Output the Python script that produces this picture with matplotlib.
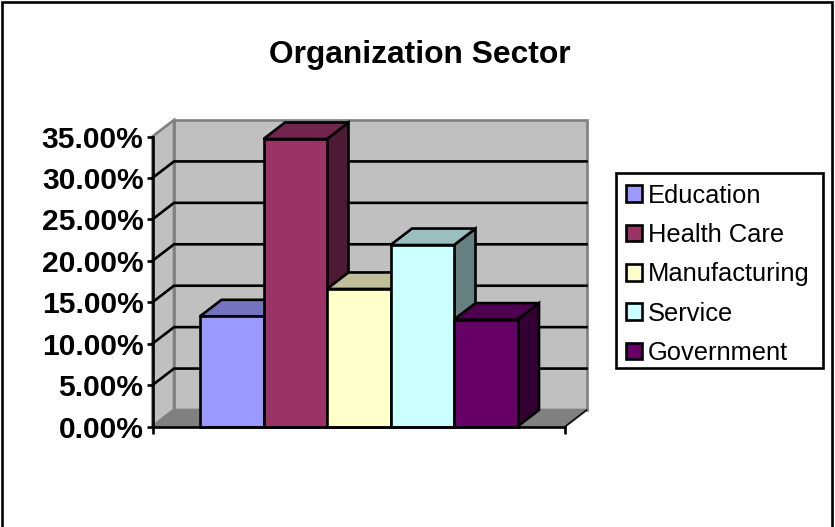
import matplotlib
matplotlib.use('Agg')
import matplotlib.pyplot as plt
from matplotlib.patches import Polygon, Rectangle
from matplotlib.colors import to_rgb

plt.rcParams['font.family'] = ['Liberation Sans', 'DejaVu Sans']

# Data
sectors = ['Education', 'Health Care', 'Manufacturing', 'Service', 'Government']
shares = [13.3, 34.7, 16.6, 21.9, 12.9]
colors = ['#9999FF', '#993366', '#FFFFCC', '#CCFFFF', '#660066']
y_ticks = [0, 5, 10, 15, 20, 25, 30, 35]

W, H = 835, 527
LW = 1.9

fig = plt.figure(figsize=(W / 100, H / 100), dpi=100)
# outer chart frame
fig.add_artist(Rectangle((1.5 / W, -0.01), (831.5 - 1.5) / W, 1.01 - 1.5 / H, transform=fig.transFigure,
                         fill=False, edgecolor='black', linewidth=LW))

# axes = front plane of the 3D box
left, right, top, bottom = 152.5, 565, 136.5, 426.5
ax = fig.add_axes([left / W, 1 - bottom / H, (right - left) / W, (bottom - top) / H])
ax.set_xlim(0, 1)
ax.set_ylim(0, 35)
ax.patch.set_visible(False)

# depth offset of the box, in data units
dx = 21.5 / (right - left)
dy = 16.5 / ((bottom - top) / 35)


def poly(points, face, edge='black', z=1, lw=LW):
    ax.add_patch(Polygon(points, closed=True, facecolor=face, edgecolor=edge,
                         linewidth=lw, zorder=z, clip_on=False, joinstyle='miter'))


# walls and floor
poly([(dx, dy), (1 + dx, dy), (1 + dx, 35 + dy), (dx, 35 + dy)], '#C0C0C0', '#808080')
poly([(0, 0), (dx, dy), (dx, 35 + dy), (0, 35)], '#C0C0C0', '#808080')
poly([(0, 0), (1, 0), (1 + dx, dy), (dx, dy)], '#808080', '#808080')
ax.plot([1, 1 + dx], [0, dy], color='black', lw=1.0, zorder=1.2, clip_on=False)

# gridlines run along the side wall and the back wall
for t in y_ticks[1:-1]:
    ax.plot([0, dx, 1 + dx], [t, t + dy, t + dy], color='black', lw=LW, zorder=1.5,
            clip_on=False, solid_joinstyle='miter')

# bars, painted left to right so later tops overlap earlier sides
bar_w = 63.5 / (right - left)
start = 0.5 - bar_w * len(shares) / 2
handles = []
for i, (name, val, c) in enumerate(zip(sectors, shares, colors)):
    x0 = start + i * bar_w
    x1 = x0 + bar_w
    rgb = to_rgb(c)
    top_c = tuple(v * 0.75 for v in rgb)
    side_c = tuple(v * 0.5 for v in rgb)
    z = 3 + i
    poly([(x1, 0), (x1 + dx, dy), (x1 + dx, val + dy), (x1, val)], side_c, z=z)
    poly([(x0, val), (x1, val), (x1 + dx, val + dy), (x0 + dx, val + dy)], top_c, z=z)
    b = ax.bar(x0, val, bar_w, align='edge', color=c, edgecolor='black', linewidth=LW,
               zorder=z + 0.5, clip_on=False)
    handles.append(b[0])

# axes
for s in ['top', 'right']:
    ax.spines[s].set_visible(False)
for s in ['left', 'bottom']:
    ax.spines[s].set_linewidth(LW)
    ax.spines[s].set_zorder(10)
ax.set_yticks(y_ticks)
ax.set_yticklabels([f'{t:.2f}%' for t in y_ticks], fontsize=21.6, fontweight='bold')
ax.set_xticks([0, 1])
ax.set_xticklabels([])
ax.tick_params(axis='y', length=4.5, width=LW, pad=2)
ax.tick_params(axis='x', length=5, width=LW)

fig.text(420 / W, 1 - 55.5 / H, 'Organization Sector', fontsize=22.9, fontweight='bold',
         ha='center', va='center')

# legend box is drawn separately, its padding is uneven in the original
fig.add_artist(Rectangle((616 / W, 1 - 368 / H), 207 / W, 195 / H, transform=fig.transFigure,
                         facecolor='white', edgecolor='black', linewidth=LW, zorder=15))
leg = fig.legend(handles, sectors, loc='upper left', bbox_to_anchor=(615.5 / W, 1 - 173 / H),
                 fontsize=18.4, frameon=False, handlelength=0.62, handleheight=0.62,
                 handletextpad=0.22, labelspacing=0.6, borderpad=0.42, borderaxespad=0)
leg.set_zorder(20)

plt.savefig('out.png', dpi=100)
